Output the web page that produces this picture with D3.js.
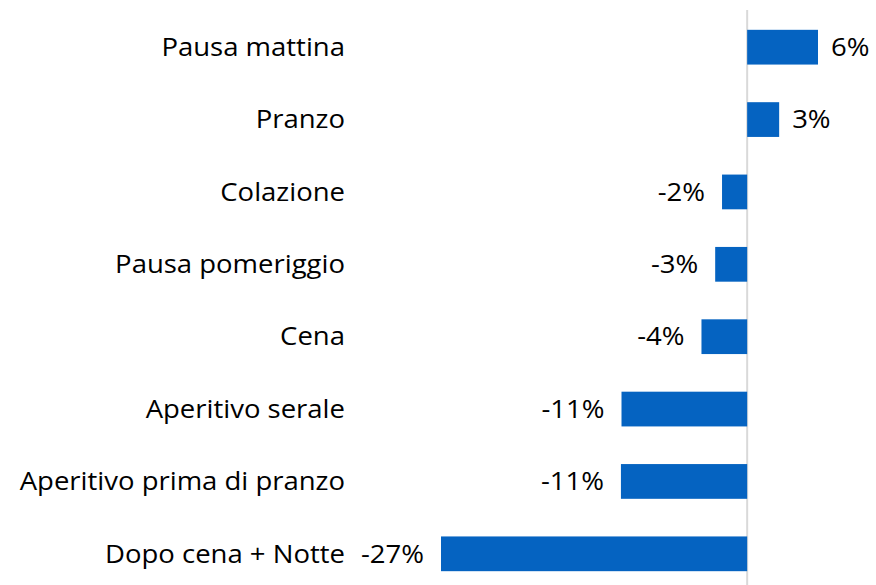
<!DOCTYPE html>
<html><head><meta charset="utf-8">
<script src="https://cdn.jsdelivr.net/npm/d3@7"></script>
<style>body{margin:0;background:#fff}svg{display:block}</style>
</head><body>
<svg id="c" width="876" height="585"></svg>
<script>
const categories = ["Pausa mattina","Pranzo","Colazione","Pausa pomeriggio","Cena","Aperitivo serale","Aperitivo prima di pranzo","Dopo cena + Notte"];
const values = [6.2, 2.8, -2.2, -2.8, -4.0, -11.0, -11.05, -26.8];
const labels = ["6%","3%","-2%","-3%","-4%","-11%","-11%","-27%"];

const svg = d3.select("#c");
const font = "'Open Sans', sans-serif";
const sx = 1.1;
const x = d3.scaleLinear().domain([-26.8, 6.2]).range([441, 818]);
const y = d3.scaleBand().domain(categories).range([11, 590]).paddingInner(0.52).paddingOuter(0.26);

svg.append("line").attr("x1", x(0)).attr("x2", x(0)).attr("y1", 10).attr("y2", 585)
  .attr("stroke", "#d9d9d9").attr("stroke-width", 2);

const data = categories.map((c, i) => ({c, v: values[i], l: labels[i]}));
svg.selectAll("rect.bar").data(data).join("rect").attr("class","bar")
  .attr("x", d => Math.min(x(0), x(d.v)))
  .attr("width", d => Math.abs(x(d.v) - x(0)))
  .attr("y", d => y(d.c)).attr("height", y.bandwidth())
  .attr("fill", "#0563C1");

svg.selectAll("g.val").data(data).join("g").attr("class","val")
  .attr("transform", d => `translate(${d.v >= 0 ? x(d.v) + 13 : x(d.v) - 17},${y(d.c) + y.bandwidth()/2}) scale(${sx},1)`)
  .append("text")
  .attr("dy", "0.35em")
  .attr("text-anchor", d => d.v >= 0 ? "start" : "end")
  .attr("font-family", font).attr("font-size", 25).attr("fill", "#000")
  .text(d => d.l);

svg.selectAll("g.cat").data(data).join("g").attr("class","cat")
  .attr("transform", d => `translate(345,${y(d.c) + y.bandwidth()/2}) scale(${sx},1)`)
  .append("text")
  .attr("dy", "0.35em")
  .attr("text-anchor", "end")
  .attr("font-family", font).attr("font-size", 25).attr("fill", "#000")
  .text(d => d.c);
</script>
</body></html>
